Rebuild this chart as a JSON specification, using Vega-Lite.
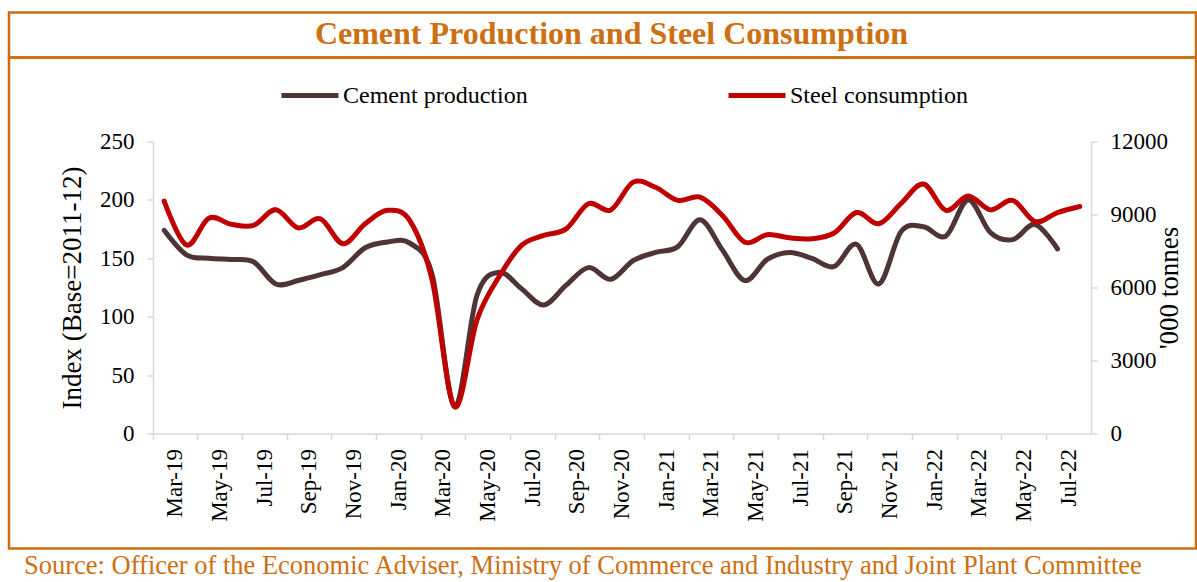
{
  "$schema": "https://vega.github.io/schema/vega-lite/v6.json",
  "padding": {"left": 7, "top": 10.5, "right": 0, "bottom": 0},
  "spacing": 0,
  "bounds": "flush",
  "config": {
    "view": {"stroke": "#CC6E0E", "strokeWidth": 2.5},
    "font": "Liberation Serif",
    "concat": {"spacing": 0}
  },
  "datasets": {
    "series": [
      {"month": "Mar-19", "cement": 174, "steel": 9550},
      {"month": "Apr-19", "cement": 153, "steel": 7750},
      {"month": "May-19", "cement": 150, "steel": 8850},
      {"month": "Jun-19", "cement": 149, "steel": 8600},
      {"month": "Jul-19", "cement": 147, "steel": 8550},
      {"month": "Aug-19", "cement": 128, "steel": 9200},
      {"month": "Sep-19", "cement": 131, "steel": 8450},
      {"month": "Oct-19", "cement": 136, "steel": 8820},
      {"month": "Nov-19", "cement": 142, "steel": 7800},
      {"month": "Dec-19", "cement": 159, "steel": 8620},
      {"month": "Jan-20", "cement": 164, "steel": 9170},
      {"month": "Feb-20", "cement": 163, "steel": 8750},
      {"month": "Mar-20", "cement": 136, "steel": 6300},
      {"month": "Apr-20", "cement": 23, "steel": 1100},
      {"month": "May-20", "cement": 118, "steel": 4650},
      {"month": "Jun-20", "cement": 138, "steel": 6450},
      {"month": "Jul-20", "cement": 124, "steel": 7730},
      {"month": "Aug-20", "cement": 110, "steel": 8140},
      {"month": "Sep-20", "cement": 127, "steel": 8410},
      {"month": "Oct-20", "cement": 142, "steel": 9440},
      {"month": "Nov-20", "cement": 132, "steel": 9190},
      {"month": "Dec-20", "cement": 148, "steel": 10330},
      {"month": "Jan-21", "cement": 155, "steel": 10120},
      {"month": "Feb-21", "cement": 160, "steel": 9580},
      {"month": "Mar-21", "cement": 183, "steel": 9710},
      {"month": "Apr-21", "cement": 157, "steel": 8960},
      {"month": "May-21", "cement": 131, "steel": 7860},
      {"month": "Jun-21", "cement": 149, "steel": 8170},
      {"month": "Jul-21", "cement": 155, "steel": 8040},
      {"month": "Aug-21", "cement": 150, "steel": 8000},
      {"month": "Sep-21", "cement": 143, "steel": 8240},
      {"month": "Oct-21", "cement": 162, "steel": 9080},
      {"month": "Nov-21", "cement": 128, "steel": 8620},
      {"month": "Dec-21", "cement": 173, "steel": 9460},
      {"month": "Jan-22", "cement": 177, "steel": 10250},
      {"month": "Feb-22", "cement": 169, "steel": 9170},
      {"month": "Mar-22", "cement": 200, "steel": 9760},
      {"month": "Apr-22", "cement": 172, "steel": 9190},
      {"month": "May-22", "cement": 166, "steel": 9580},
      {"month": "Jun-22", "cement": 179, "steel": 8710},
      {"month": "Jul-22", "cement": 158, "steel": 9080},
      {"month": "Aug-22", "cement": null, "steel": 9330}
    ]
  },
  "vconcat": [
    {
      "width": 1187,
      "height": 45,
      "data": {"values": [{"t": "Cement Production and Steel Consumption", "p": 0.5}]},
      "mark": {"type": "text", "font": "Liberation Serif", "fontSize": 32, "fontWeight": "bold", "color": "#CC7012", "baseline": "middle", "dx": 9, "dy": -1},
      "encoding": {
        "x": {"field": "p", "type": "quantitative", "scale": {"domain": [0, 1]}, "axis": null},
        "text": {"field": "t"}
      }
    },
    {
      "width": 1187,
      "height": 491,
      "data": {"name": "series"},
      "layer": [
        {
          "mark": {"type": "line", "interpolate": "cardinal", "strokeWidth": 5, "strokeCap": "round", "strokeJoin": "round"},
          "encoding": {
            "x": {
              "field": "month", "type": "ordinal", "sort": null, "bandPosition": 0.5,
              "scale": {"type": "band", "range": [144, 1082], "paddingInner": 0, "paddingOuter": 0},
              "axis": {
                "orient": "bottom", "offset": -115, "title": null,
                "values": ["Mar-19", "May-19", "Jul-19", "Sep-19", "Nov-19", "Jan-20", "Mar-20", "May-20", "Jul-20", "Sep-20", "Nov-20", "Jan-21", "Mar-21", "May-21", "Jul-21", "Sep-21", "Nov-21", "Jan-22", "Mar-22", "May-22", "Jul-22"],
                "bandPosition": 0, "labelOffset": 11.17,
                "labelAngle": 270, "labelAlign": "right", "labelBaseline": "middle",
                "labelFont": "Liberation Serif", "labelFontSize": 23, "labelColor": "#000000",
                "labelPadding": 9, "labelOverlap": false,
                "domainColor": "#D9D9D9", "domainWidth": 1.5, "tickColor": "#D9D9D9", "tickWidth": 1.5, "tickSize": 6, "grid": false
              }
            },
            "y": {
              "field": "cement", "type": "quantitative",
              "scale": {"domain": [0, 250], "range": [376, 84], "nice": false},
              "axis": {
                "orient": "left", "offset": -144, "values": [0, 50, 100, 150, 200, 250],
                "title": "Index (Base=2011-12)", "titleFont": "Liberation Serif", "titleFontSize": 27, "titleFontWeight": "normal", "titleColor": "#000000", "titlePadding": 13,
                "labelFont": "Liberation Serif", "labelFontSize": 23, "labelColor": "#000000", "labelPadding": 13,
                "domainColor": "#D9D9D9", "domainWidth": 1.5, "tickColor": "#D9D9D9", "tickWidth": 1.5, "tickSize": 6, "grid": false
              }
            },
            "color": {
              "datum": "Cement production", "type": "nominal",
              "scale": {"domain": ["Cement production", "Steel consumption"], "range": ["#4E3434", "#C00000"]},
              "legend": {
                "orient": "none", "legendX": 270, "legendY": 52, "direction": "horizontal", "columns": 2,
                "title": null, "symbolType": "stroke", "symbolSize": 3249, "symbolStrokeWidth": 5,
                "labelFont": "Liberation Serif", "labelFontSize": 24, "labelColor": "#000000", "labelOffset": 2, "labelLimit": 0,
                "columnPadding": 190
              }
            }
          }
        },
        {
          "mark": {"type": "line", "interpolate": "cardinal", "strokeWidth": 5, "strokeCap": "round", "strokeJoin": "round"},
          "encoding": {
            "x": {"field": "month", "type": "ordinal", "sort": null, "bandPosition": 0.5},
            "y": {
              "field": "steel", "type": "quantitative",
              "scale": {"domain": [0, 12000], "range": [376, 84], "nice": false},
              "axis": {
                "orient": "right", "offset": -105, "values": [0, 3000, 6000, 9000, 12000], "format": "d",
                "title": "'000 tonnes", "titleAngle": 270, "titleFont": "Liberation Serif", "titleFontSize": 27, "titleFontWeight": "normal", "titleColor": "#000000", "titlePadding": 16,
                "labelFont": "Liberation Serif", "labelFontSize": 23, "labelColor": "#000000", "labelPadding": 13,
                "domainColor": "#D9D9D9", "domainWidth": 1.5, "tickColor": "#D9D9D9", "tickWidth": 1.5, "tickSize": 6, "grid": false
              }
            },
            "color": {"datum": "Steel consumption", "type": "nominal"}
          }
        }
      ],
      "resolve": {"scale": {"y": "independent"}}
    },
    {
      "width": 1187,
      "height": 34,
      "view": {"stroke": null},
      "data": {"values": [{"s": "Source: Officer of the Economic Adviser, Ministry of Commerce and Industry and Joint Plant Committee", "p": 0}]},
      "mark": {"type": "text", "font": "Liberation Serif", "fontSize": 26.5, "color": "#CC7012", "align": "left", "baseline": "middle", "dx": 15},
      "encoding": {
        "x": {"field": "p", "type": "quantitative", "scale": {"domain": [0, 1]}, "axis": null},
        "text": {"field": "s"}
      }
    }
  ]
}
